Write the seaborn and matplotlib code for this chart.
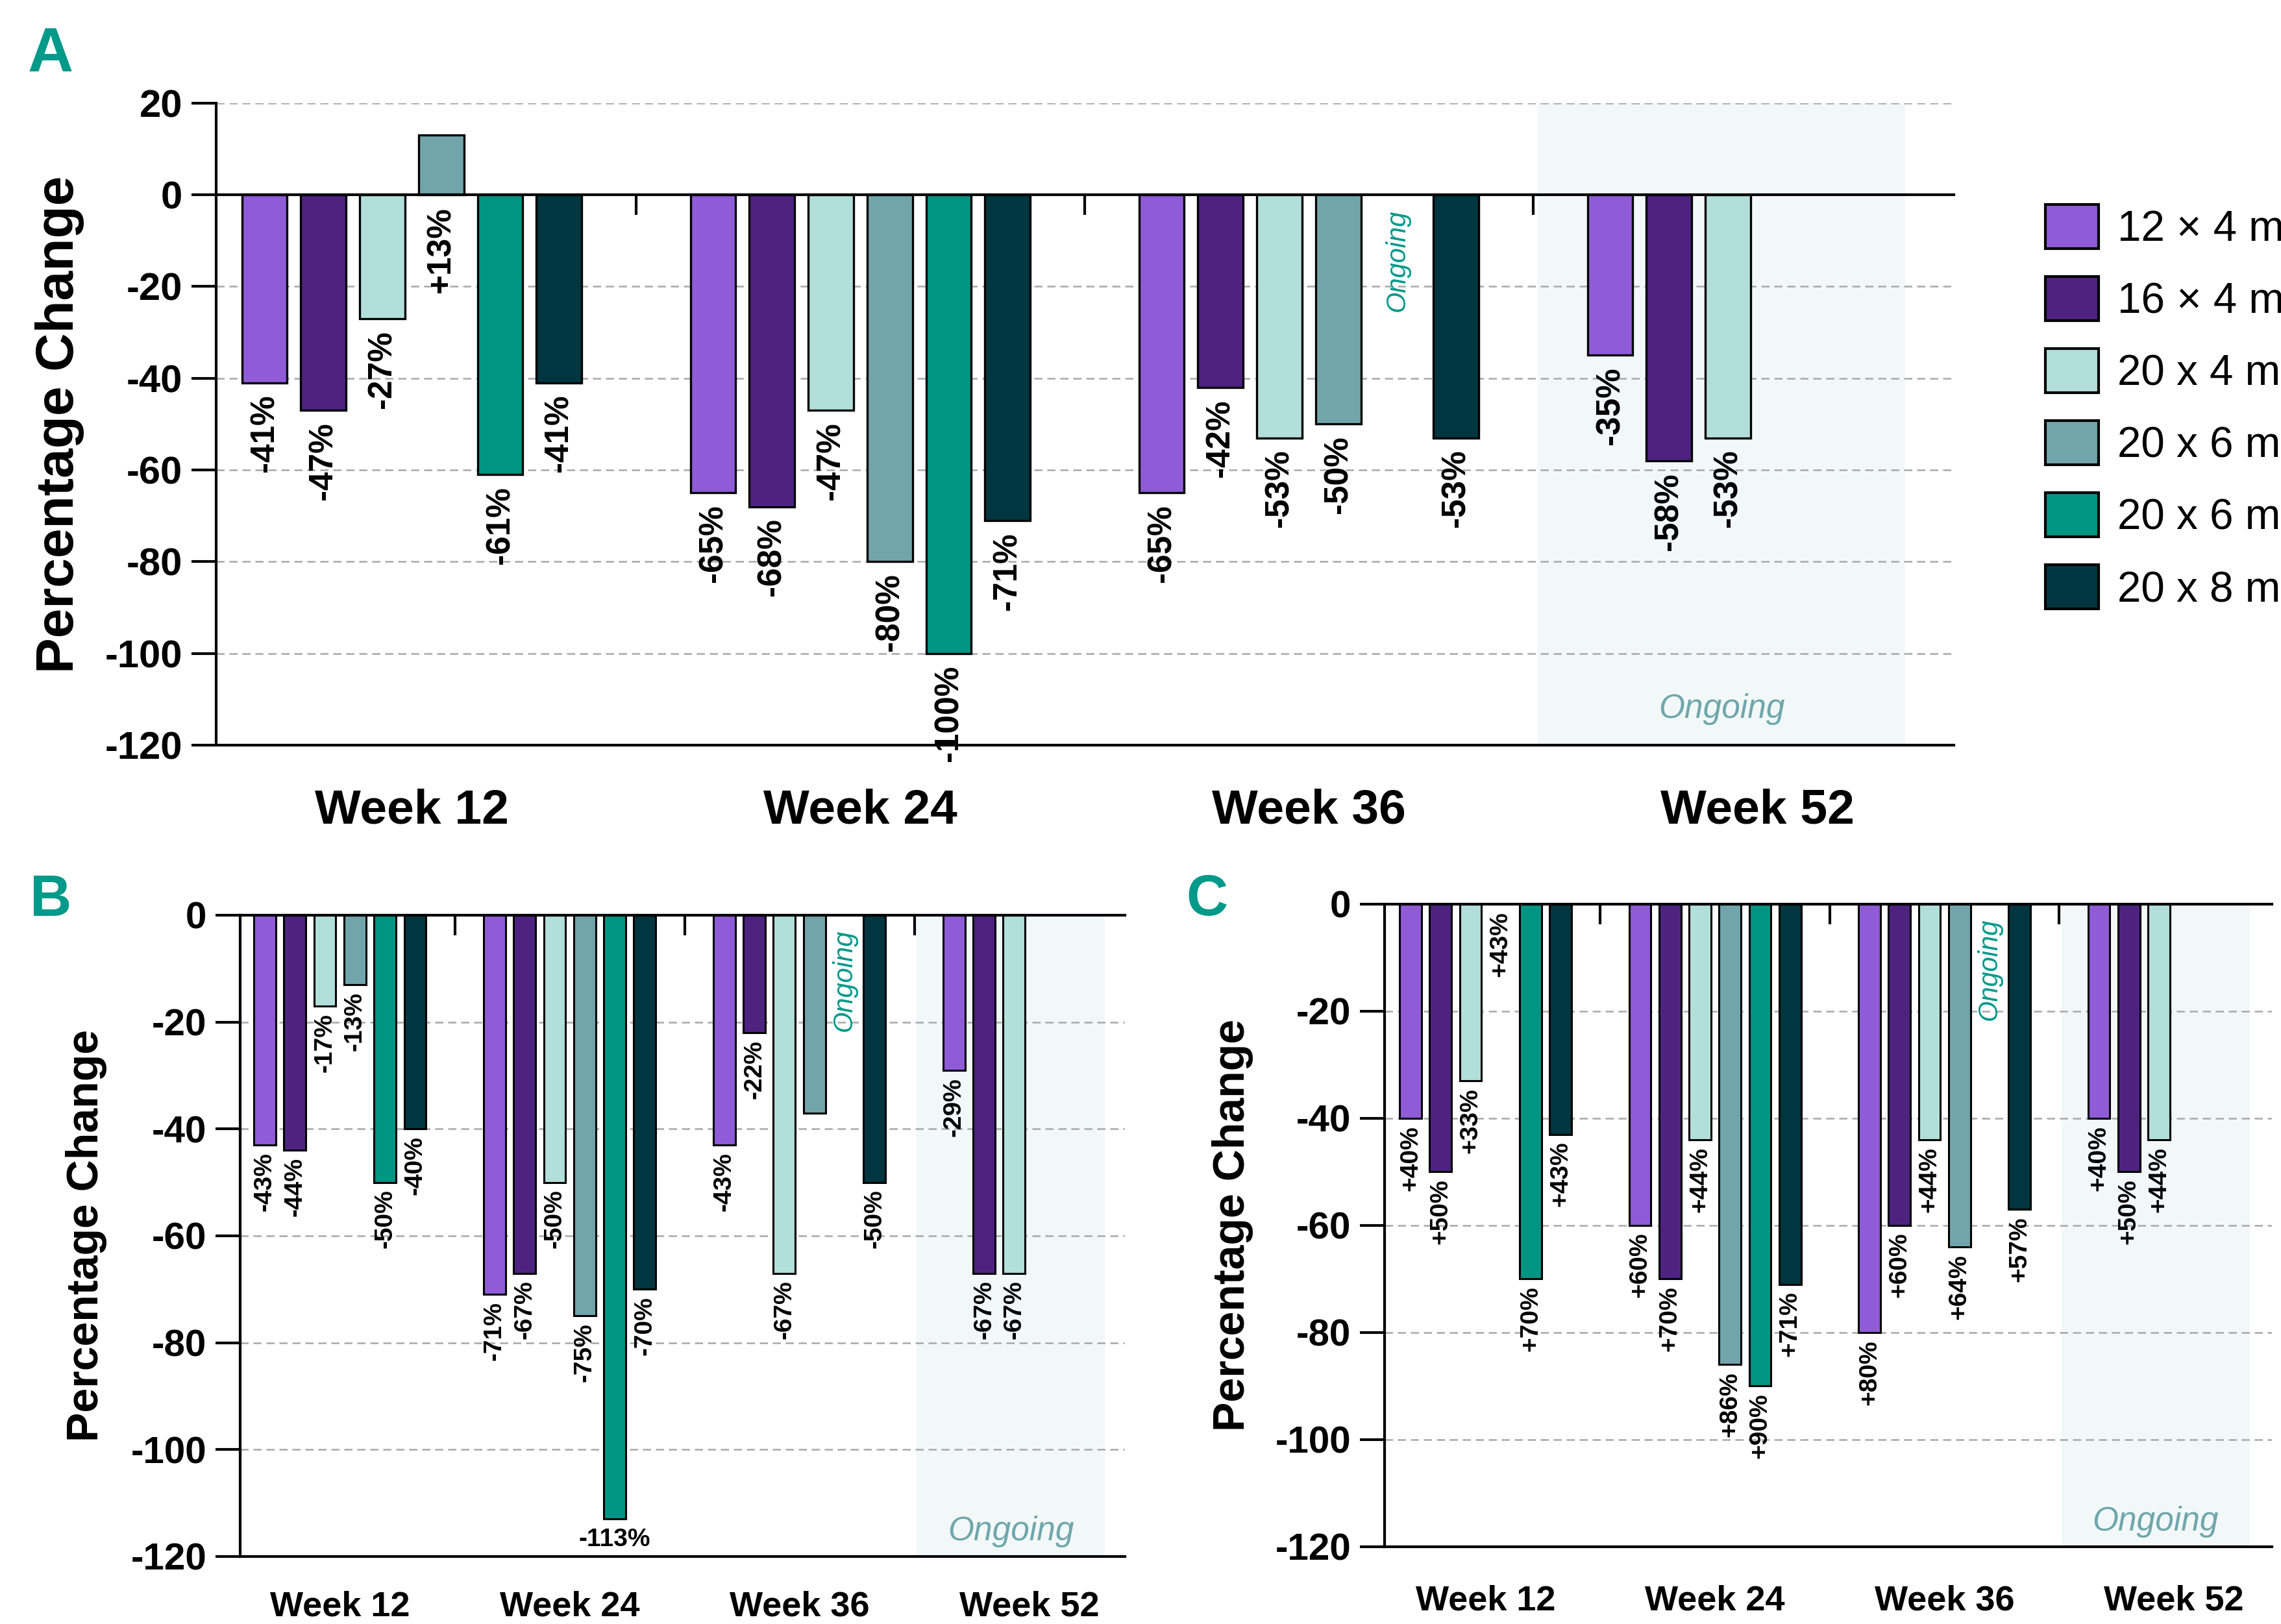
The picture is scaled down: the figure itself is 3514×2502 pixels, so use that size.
import numpy as np
import pandas as pd
import matplotlib
matplotlib.use('Agg')
import matplotlib.pyplot as plt
import seaborn as sns
from matplotlib.patches import Patch

# 数据
weeks = ['Week 12', 'Week 24', 'Week 36', 'Week 52']
dose_keys = ['12x4', '16x4', '20x4', '20x6a', '20x6b', '20x8']
dose_labels = ['12 × 4 mg', '16 × 4 mg', '20 x 4 mg', '20 x 6 mg', '20 x 6 mg', '20 x 8 mg']
colors = ['#8f5bd6', '#4e2380', '#b2dfd9', '#72a5ab', '#009482', '#013640']

a_vals = [[-41, -47, -27, 13, -61, -41],
          [-65, -68, -47, -80, -100, -71],
          [-65, -42, -53, -50, None, -53],
          [-35, -58, -53, None, None, None]]
a_text = [['-41%', '-47%', '-27%', '+13%', '-61%', '-41%'],
          ['-65%', '-68%', '-47%', '-80%', '-100%', '-71%'],
          ['-65%', '-42%', '-53%', '-50%', 'Ongoing', '-53%'],
          ['-35%', '-58%', '-53%', '', '', '']]

b_vals = [[-43, -44, -17, -13, -50, -40],
          [-71, -67, -50, -75, -113, -70],
          [-43, -22, -67, -37, None, -50],
          [-29, -67, -67, None, None, None]]
b_text = [['-43%', '-44%', '-17%', '-13%', '-50%', '-40%'],
          ['-71%', '-67%', '-50%', '-75%', '-113%', '-70%'],
          ['-43%', '-22%', '-67%', '', 'Ongoing', '-50%'],
          ['-29%', '-67%', '-67%', '', '', '']]

c_vals = [[-40, -50, -33, 0, -70, -43],
          [-60, -70, -44, -86, -90, -71],
          [-80, -60, -44, -64, None, -57],
          [-40, -50, -44, None, None, None]]
c_text = [['+40%', '+50%', '+33%', '+43%', '+70%', '+43%'],
          ['+60%', '+70%', '+44%', '+86%', '+90%', '+71%'],
          ['+80%', '+60%', '+44%', '+64%', 'Ongoing', '+57%'],
          ['+40%', '+50%', '+44%', '', '', '']]

teal = '#00998a'
ongoing_grey = '#6fa6ab'
shade = '#f2f8f8'

sns.set_style('white')
plt.rcParams['font.family'] = ['Liberation Sans', 'DejaVu Sans']
plt.rcParams['axes.unicode_minus'] = False
plt.rcParams['text.color'] = 'black'
plt.rcParams['axes.labelcolor'] = 'black'
plt.rcParams['xtick.color'] = 'black'
plt.rcParams['ytick.color'] = 'black'


def make_df(vals, texts):
    rows = []
    for w, vrow, trow in zip(weeks, vals, texts):
        for k, v, t in zip(dose_keys, vrow, trow):
            rows.append({'week': w, 'dose': k,
                         'value': np.nan if v is None else v, 'text': t})
    return pd.DataFrame(rows)


def draw_panel(ax, df, ylim, xlim, st):
    sns.barplot(data=df, x='week', y='value', hue='dose', order=weeks,
                hue_order=dose_keys, palette=colors, saturation=1,
                width=st['width'], gap=st['gap'], edgecolor='black',
                linewidth=st['edge'], errorbar=None, legend=False, ax=ax, zorder=2)
    ax.axvspan(2.51, 3.33, color=shade, lw=0, zorder=0)
    ax.set_ylim(*ylim)
    ax.set_xlim(*xlim)
    ax.set_yticks(np.arange(ylim[0], ylim[1] + 1, 20))
    ax.yaxis.grid(True, color='#a8a8a8', ls=(0, (5, 3)), lw=0.9)
    ax.xaxis.grid(False)
    ax.set_axisbelow(True)

    ax.spines['right'].set_visible(False)
    ax.spines['top'].set_position(('data', 0))
    for s in ['top', 'bottom', 'left']:
        ax.spines[s].set_linewidth(1.5)
        ax.spines[s].set_color('black')

    ax.set_xticks(range(len(weeks)))
    ax.set_xticklabels(weeks)
    ax.set_xticks([0.5, 1.5, 2.5], minor=True)
    ax.tick_params(axis='x', which='major', length=0, pad=st['week_pad'],
                   labelsize=st['week_size'], bottom=True, top=False,
                   labelbottom=True, labeltop=False)
    ax.tick_params(axis='x', which='minor', bottom=False, top=True,
                   direction='in', length=11, width=1.5,
                   labelbottom=False, labeltop=False)
    ax.tick_params(axis='y', which='major', left=True, direction='out',
                   length=13.7, width=1.5, pad=5, labelsize=st['tick_size'])
    for lbl in ax.get_xticklabels() + ax.get_yticklabels():
        lbl.set_fontweight('bold')
    ax.set_xlabel('')
    ax.set_ylabel('Percentage Change', fontsize=st['ylab_size'], fontweight='bold')
    ax.yaxis.set_label_coords(st['ylab_x'], 0.5)

    step = st['width'] / len(dose_keys)
    lookup = {(r.week, r.dose): r.text for r in df.itertuples()}

    # 柱子标签
    for cont in ax.containers:
        for bar in cont:
            h = bar.get_height()
            if np.isnan(h):
                continue
            xc = bar.get_x() + bar.get_width() / 2
            wi = int(round(xc))
            hi = int(round((xc - wi) / step + 2.5))
            key = (weeks[wi], dose_keys[hi])
            text = lookup.get(key, '')
            if not text:
                continue
            flat = key in st['flat']
            ax.annotate(text, (xc, min(h, 0)),
                        xytext=(0, -(st['flat_pad'] if flat else st['label_pad'])),
                        textcoords='offset points', rotation=0 if flat else 90,
                        ha='center', va='top', fontsize=st['label_size'],
                        fontweight='bold', annotation_clip=False)

    # 进行中
    for r in df.itertuples():
        if np.isnan(r.value) and r.text == 'Ongoing':
            x = weeks.index(r.week) + (dose_keys.index(r.dose) - 2.5) * step
            ax.annotate('Ongoing', (x, 0), xytext=(0, -8), textcoords='offset points',
                        rotation=90, ha='center', va='top', fontsize=15,
                        style='italic', color=teal)
    ax.text(2.92, st['ong_y'], 'Ongoing', ha='center', va='baseline',
            fontsize=18.5, style='italic', color=ongoing_grey)


fig = plt.figure(figsize=(17.57, 12.51), dpi=200)

ax_a = fig.add_axes([0.0948, 0.5412, 0.7618, 0.3953])
ax_b = fig.add_axes([0.1053, 0.0416, 0.3879, 0.3949])
ax_c = fig.add_axes([0.6070, 0.0476, 0.3890, 0.3957])

style_a = dict(width=0.788, gap=0.23, edge=1.2, week_pad=24, week_size=27,
               tick_size=21.5, ylab_size=29.5, ylab_x=-0.076, label_size=18.5,
               label_pad=6.5, flat=set(), flat_pad=5, ong_y=-114)
style_b = dict(width=0.785, gap=0.27, edge=1.1, week_pad=19, week_size=19.5,
               tick_size=21, ylab_size=24.5, ylab_x=-0.1504, label_size=14,
               label_pad=4, flat={('Week 24', '20x6b')}, flat_pad=5, ong_y=-117)
style_c = dict(style_b, ylab_x=-0.1478, week_pad=21, flat=set())

draw_panel(ax_a, make_df(a_vals, a_text), (-120, 20), (-0.436, 3.438), style_a)
draw_panel(ax_b, make_df(b_vals, b_text), (-120, 0), (-0.434, 3.417), style_b)
draw_panel(ax_c, make_df(c_vals, c_text), (-120, 0), (-0.44, 3.427), style_c)

# 面板字母
fig.text(0.012, 0.956, 'A', fontsize=35, fontweight='bold', color=teal, va='baseline')
fig.text(0.0131, 0.4361, 'B', fontsize=32, fontweight='bold', color=teal, va='baseline')
fig.text(0.520, 0.4365, 'C', fontsize=32, fontweight='bold', color=teal, va='baseline')

# 图例
handles = [Patch(facecolor=c, edgecolor='black', linewidth=1.5) for c in colors]
fig.legend(handles, dose_labels, loc='upper left', bbox_to_anchor=(0.8967, 0.8741),
           frameon=False, fontsize=23.6, handlelength=1.25, handleheight=1.22,
           handletextpad=0.44, labelspacing=0.625, borderpad=0, borderaxespad=0)

fig.savefig('out.png', dpi=200)
plt.close(fig)
